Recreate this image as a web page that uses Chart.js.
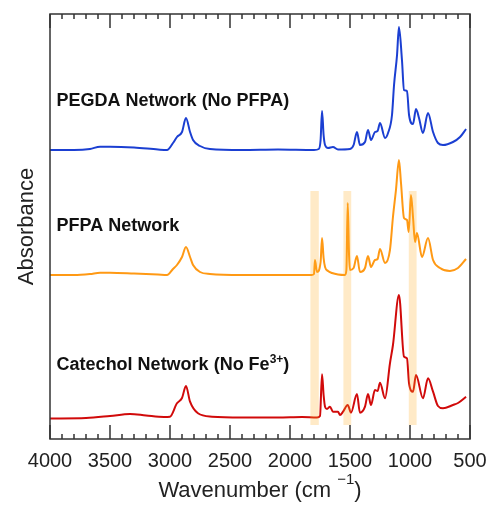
<!DOCTYPE html>
<html>
<head>
<meta charset="utf-8">
<script src="https://cdn.jsdelivr.net/npm/chart.js@4/dist/chart.umd.min.js"></script>
<style>
  body { margin: 0; background: #fff; }
  #ftirChart { display: block; }
</style>
</head>
<body>
<canvas id="ftirChart" width="489" height="505"></canvas>
<script>
// Espectros FTIR (absorbância com deslocamento vertical, unidades arbitrárias)
const pegdaWn  = [4000, 3800, 3667, 3583, 3500, 3300, 3100, 3025, 2975, 2942, 2900, 2867, 2833, 2808, 2750, 2667, 2400, 2100, 1800, 1760, 1745, 1733, 1720, 1708, 1683, 1642, 1600, 1500, 1470, 1442, 1417, 1375, 1350, 1325, 1292, 1270, 1250, 1208, 1183, 1150, 1133, 1108, 1092, 1067, 1050, 1025, 1008, 975, 950, 925, 892, 850, 808, 767, 725, 642, 583, 533];
const pegdaAbs = [289, 289, 290, 292.3, 292.3, 291.5, 289.5, 289, 296, 302, 307, 321, 307, 299, 293, 290, 289, 289.5, 289, 290, 299, 328, 304, 294, 291, 292, 289.5, 290, 294, 307, 294, 297, 309, 299, 307, 308, 316, 301, 306, 324, 354, 384, 412, 379, 349, 348, 324, 315, 330, 321, 306, 326, 307, 296, 294, 297, 302, 310];

const pfpaWn  = [4000, 3800, 3667, 3583, 3500, 3300, 3100, 3025, 2975, 2942, 2900, 2867, 2833, 2808, 2750, 2667, 2400, 2100, 1820, 1800, 1792, 1775, 1745, 1733, 1720, 1708, 1683, 1650, 1600, 1542, 1530, 1519, 1508, 1500, 1470, 1442, 1417, 1375, 1350, 1325, 1292, 1270, 1250, 1208, 1167, 1142, 1117, 1092, 1075, 1050, 1025, 1011, 992, 975, 958, 942, 900, 850, 808, 750, 667, 600, 533];
const pfpaAbs = [164, 164, 165, 166.3, 166.3, 165.5, 164.5, 164, 170, 174, 182, 192, 182, 174, 167, 165, 164, 164, 164, 165, 179, 167, 177, 201, 181, 172, 168, 166, 164.5, 164, 169, 236, 184, 169, 171, 183, 167, 171, 183, 172, 179, 180, 190, 176, 189, 222, 249, 279, 256, 221, 219, 207, 244, 222, 197, 206, 182, 201, 179, 171, 168, 171, 180];

const catecholWn  = [4000, 3700, 3500, 3333, 3200, 3050, 3000, 2942, 2900, 2867, 2833, 2767, 2650, 2400, 2100, 1900, 1775, 1750, 1733, 1720, 1708, 1692, 1667, 1642, 1600, 1583, 1558, 1519, 1492, 1442, 1417, 1375, 1350, 1325, 1292, 1270, 1250, 1208, 1167, 1142, 1092, 1050, 1025, 1008, 975, 950, 892, 850, 808, 767, 725, 642, 600, 533];
const catecholAbs = [20.5, 21, 23, 25, 23.5, 22, 22.3, 35.7, 41, 53, 37.3, 25.7, 22.3, 21.5, 21.5, 22, 21.5, 23, 64.7, 44, 32.3, 30, 32.3, 27.3, 27.3, 24, 27.3, 34, 26.3, 45, 26.3, 32.3, 45, 34, 49, 48, 56.3, 40.7, 75.7, 94, 144, 82.3, 80.7, 55.7, 47.3, 64, 40.7, 60.7, 47.3, 33, 30.7, 34, 36, 42.3];

// Faixas destacadas (cm-1)
const bandStart = [1830, 1555, 1010];
const bandEnd   = [1760, 1490, 945];
const bandTop = 248;
const bandBottom = 14;

const seriesNames = ['PEGDA Network (No PFPA)', 'PFPA Network', 'Catechol Network (No Fe³⁺)'];
const seriesColors = ['#1b3fd2', '#ff9914', '#d10a0a'];

const xTicks = [4000, 3500, 3000, 2500, 2000, 1500, 1000, 500];

function toPoints(wn, ab) {
    return wn.map((w, i) => ({ x: w, y: ab[i] }));
}

const frameColor = '#333';

// Desenha faixas, moldura, ticks internos e textos
const decorPlugin = {
    id: 'decor',
    afterDatasetsDraw(chart) {
        const { ctx, chartArea: { top, bottom, left, right }, scales: { x, y } } = chart;
        ctx.save();

        // faixas laranja claras
        ctx.fillStyle = 'rgba(255, 170, 30, 0.25)';
        for (let i = 0; i < bandStart.length; i++) {
            const x1 = x.getPixelForValue(bandStart[i]);
            const x2 = x.getPixelForValue(bandEnd[i]);
            const y1 = y.getPixelForValue(bandTop);
            const y2 = y.getPixelForValue(bandBottom);
            ctx.fillRect(x1, y1, x2 - x1, y2 - y1);
        }

        // moldura
        ctx.strokeStyle = frameColor;
        ctx.lineWidth = 1.5;
        ctx.strokeRect(left, top, right - left, bottom - top);

        // ticks para dentro (maiores a cada 500, menores a cada 100)
        ctx.beginPath();
        for (let w = 4000; w >= 500; w -= 100) {
            const px = x.getPixelForValue(w);
            const len = (w % 500 === 0) ? 14 : 5;
            ctx.moveTo(px, bottom);
            ctx.lineTo(px, bottom - len);
            ctx.moveTo(px, top);
            ctx.lineTo(px, top + len);
        }
        ctx.stroke();

        // rótulos das curvas
        ctx.fillStyle = '#111';
        ctx.textBaseline = 'alphabetic';
        ctx.textAlign = 'left';
        const lx = x.getPixelForValue(3945);
        ctx.font = 'bold 18px Arial, "Liberation Sans", sans-serif';
        ctx.fillText('PEGDA Network (No PFPA)', lx, y.getPixelForValue(333.3));
        ctx.fillText('PFPA Network', lx, y.getPixelForValue(208.3));
        const ly = y.getPixelForValue(69);
        const part1 = 'Catechol Network (No Fe';
        ctx.fillText(part1, lx, ly);
        let cx = lx + ctx.measureText(part1).width;
        ctx.font = 'bold 12px Arial, "Liberation Sans", sans-serif';
        ctx.fillText('3+', cx, ly - 7);
        cx += ctx.measureText('3+').width;
        ctx.font = 'bold 18px Arial, "Liberation Sans", sans-serif';
        ctx.fillText(')', cx, ly);

        // título do eixo x com sobrescrito
        ctx.fillStyle = '#222';
        ctx.font = '22px Arial, "Liberation Sans", sans-serif';
        const t1 = 'Wavenumber (cm';
        const w1 = ctx.measureText(t1).width;
        ctx.font = '15px Arial, "Liberation Sans", sans-serif';
        const t2 = '\u22121';
        const w2 = ctx.measureText(t2).width;
        ctx.font = '22px Arial, "Liberation Sans", sans-serif';
        const w3 = ctx.measureText(')').width;
        const gap = 6;
        const total = w1 + gap + w2 + w3;
        let tx = (left + right) / 2 - total / 2;
        const tBase = 497;
        ctx.fillText(t1, tx, tBase);
        tx += w1 + gap;
        ctx.font = '15px Arial, "Liberation Sans", sans-serif';
        ctx.fillText(t2, tx, tBase - 13);
        tx += w2;
        ctx.font = '22px Arial, "Liberation Sans", sans-serif';
        ctx.fillText(')', tx, tBase);

        // título do eixo y
        ctx.save();
        ctx.translate(33, (top + bottom) / 2);
        ctx.rotate(-Math.PI / 2);
        ctx.textAlign = 'center';
        ctx.fillText('Absorbance', 0, 0);
        ctx.restore();

        ctx.restore();
    }
};

const ctx = document.getElementById('ftirChart').getContext('2d');
new Chart(ctx, {
    type: 'line',
    data: {
        datasets: [
            { label: seriesNames[0], data: toPoints(pegdaWn, pegdaAbs), borderColor: seriesColors[0] },
            { label: seriesNames[1], data: toPoints(pfpaWn, pfpaAbs), borderColor: seriesColors[1] },
            { label: seriesNames[2], data: toPoints(catecholWn, catecholAbs), borderColor: seriesColors[2] }
        ].map(d => Object.assign(d, {
            borderWidth: 2,
            pointRadius: 0,
            fill: false,
            cubicInterpolationMode: 'monotone'
        }))
    },
    options: {
        responsive: false,
        devicePixelRatio: 1,
        animation: false,
        layout: { padding: { top: 14, right: 19, left: 0, bottom: 0 } },
        plugins: {
            legend: { display: false },
            tooltip: { enabled: false }
        },
        scales: {
            x: {
                type: 'linear',
                min: 500,
                max: 4000,
                reverse: true,
                afterBuildTicks: (scale) => { scale.ticks = xTicks.map(v => ({ value: v })); },
                afterFit: (scale) => {
                    scale.height = 66;
                    scale.paddingLeft = 0;
                    scale.paddingRight = 0;
                },
                ticks: {
                    color: '#222',
                    font: { size: 20, family: 'Arial, "Liberation Sans", sans-serif' },
                    padding: 10,
                    maxRotation: 0,
                    autoSkip: false,
                    callback: (v) => String(v)
                },
                grid: { display: false, drawTicks: false },
                border: { display: false }
            },
            y: {
                min: 0,
                max: 425,
                afterFit: (scale) => { scale.width = 50; },
                ticks: { display: false },
                grid: { display: false, drawTicks: false },
                border: { display: false }
            }
        }
    },
    plugins: [decorPlugin]
});
</script>
</body>
</html>
